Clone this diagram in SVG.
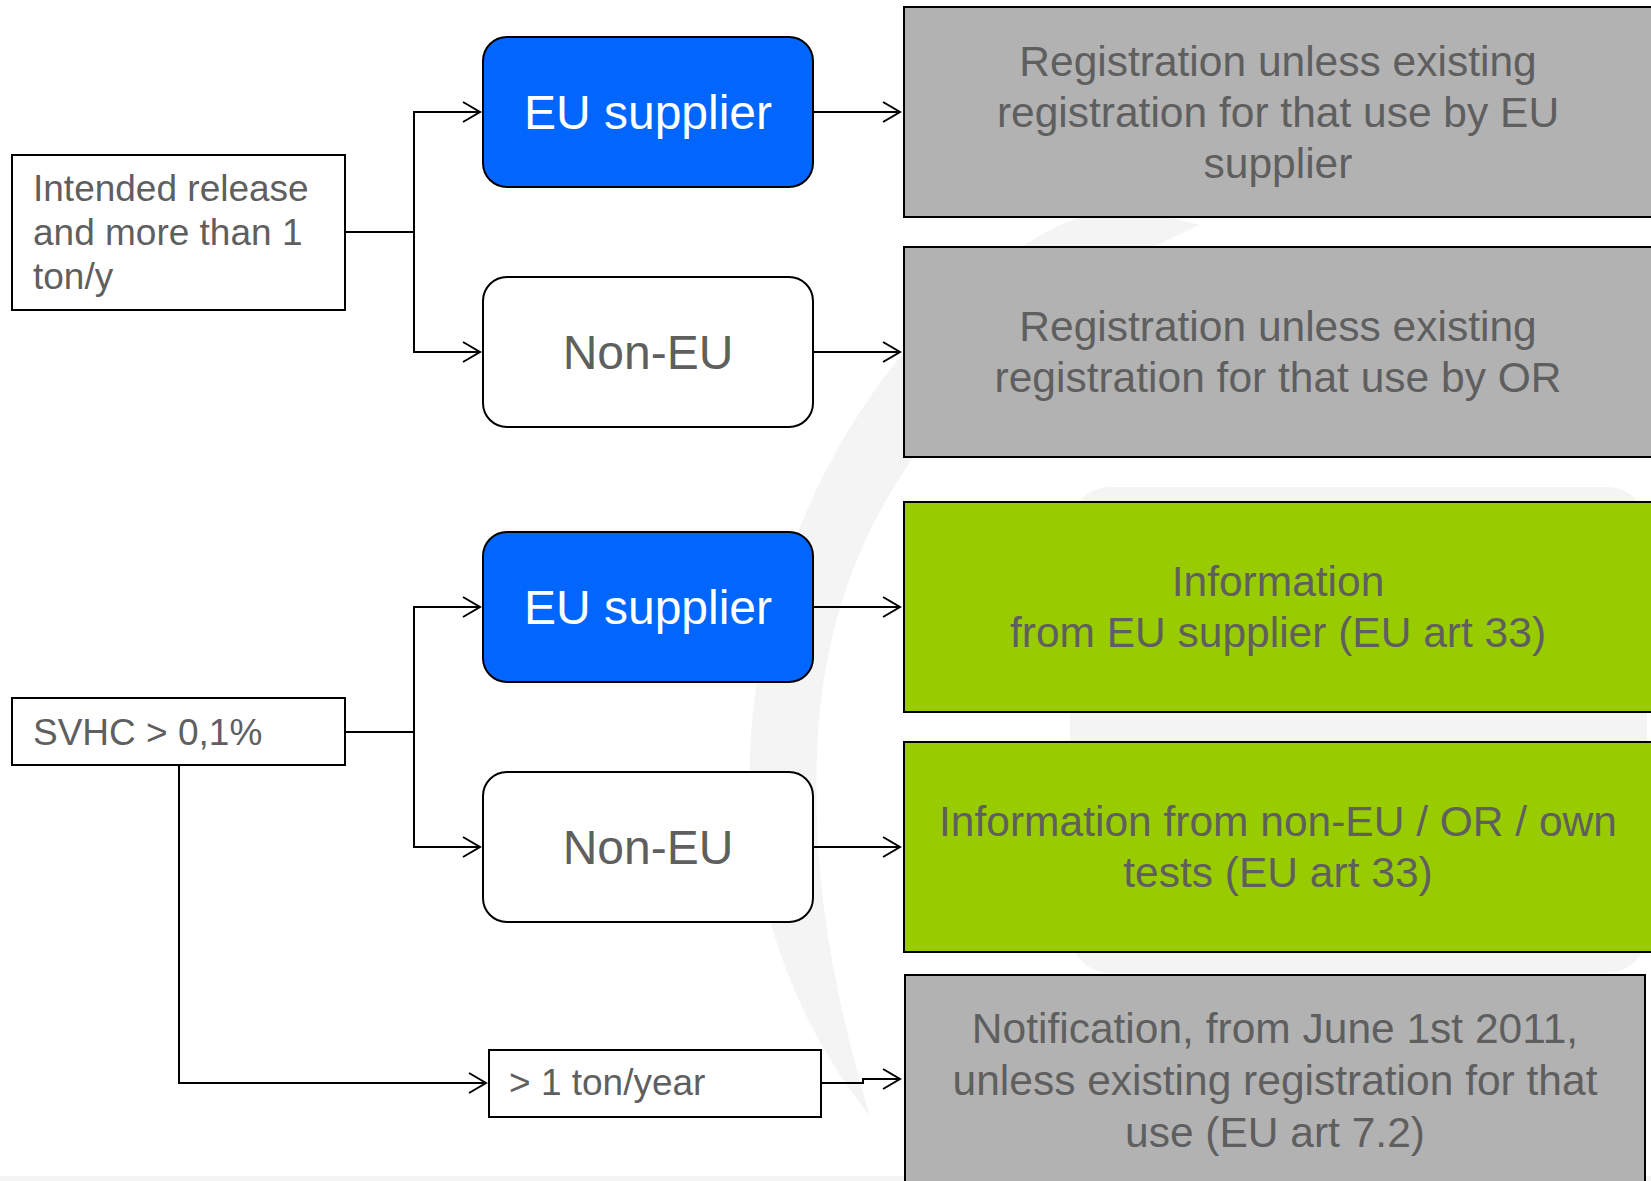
<svg xmlns="http://www.w3.org/2000/svg" width="1651" height="1181" viewBox="0 0 1651 1181">
  <style>
    .t { font-family: "Liberation Sans", Arial, sans-serif; fill: #5f5f5f; }
    .left { font-size: 37px; }
    .mid { font-size: 48px; text-anchor: middle; }
    .right { font-size: 42.5px; text-anchor: middle; }
    .white { fill: #ffffff; }
    .box { stroke: #000; stroke-width: 2; }
    .plain { fill: #ffffff; }
    .blue { fill: #0066ff; }
    .grey { fill: #b2b2b2; }
    .green { fill: #99cc00; }
    .conn { fill: none; stroke: #000; stroke-width: 2; }
    .wm { fill: #f4f4f4; }
  </style>
  <defs>
    <marker id="arr" markerUnits="userSpaceOnUse" markerWidth="24" markerHeight="24" viewBox="-20 -12 24 24" refX="0" refY="0" orient="auto" overflow="visible">
      <path d="M-17,-10 L0,0 L-17,10" fill="none" stroke="#000" stroke-width="2"/>
    </marker>
  </defs>
  <rect width="1651" height="1181" fill="#ffffff"/>
  <g id="watermark">
    <path class="wm" d="M1120,205 C950,240 760,480 750,755 C745,900 800,1030 870,1116 C835,1000 812,880 817,755 C822,600 880,470 1000,360 C1060,300 1130,255 1200,225 Z"/>
    <rect class="wm" x="1070" y="487" width="577" height="486" rx="40"/>
    <rect class="wm" x="0" y="1176" width="1651" height="5"/>
  </g>

  <g id="connectors">
    <path class="conn" d="M345,232 H414 V112 H480" marker-end="url(#arr)"/>
    <path class="conn" d="M414,232 V352 H480" marker-end="url(#arr)"/>
    <path class="conn" d="M813,112 H900" marker-end="url(#arr)"/>
    <path class="conn" d="M813,352 H900" marker-end="url(#arr)"/>
    <path class="conn" d="M345,732 H414 V607 H480" marker-end="url(#arr)"/>
    <path class="conn" d="M414,732 V847 H480" marker-end="url(#arr)"/>
    <path class="conn" d="M813,607 H900" marker-end="url(#arr)"/>
    <path class="conn" d="M813,847 H900" marker-end="url(#arr)"/>
    <path class="conn" d="M179,765 V1083 H486" marker-end="url(#arr)"/>
    <path class="conn" d="M821,1083 H863 V1079 H900" marker-end="url(#arr)"/>
  </g>

  <g id="intended">
    <rect class="box plain" x="12" y="155" width="333" height="155"/>
    <text class="t left" x="33" y="201">Intended release</text>
    <text class="t left" x="33" y="245">and more than 1</text>
    <text class="t left" x="33" y="289">ton/y</text>
  </g>
  <g id="svhc">
    <rect class="box plain" x="12" y="698" width="333" height="67"/>
    <text class="t left" x="33" y="745">SVHC &gt; 0,1%</text>
  </g>
  <g id="eu1">
    <rect class="box blue" x="483" y="37" width="330" height="150" rx="24"/>
    <text class="t mid white" x="648" y="129">EU supplier</text>
  </g>
  <g id="noneu1">
    <rect class="box plain" x="483" y="277" width="330" height="150" rx="24"/>
    <text class="t mid" x="648" y="369">Non-EU</text>
  </g>
  <g id="eu2">
    <rect class="box blue" x="483" y="532" width="330" height="150" rx="24"/>
    <text class="t mid white" x="648" y="624">EU supplier</text>
  </g>
  <g id="noneu2">
    <rect class="box plain" x="483" y="772" width="330" height="150" rx="24"/>
    <text class="t mid" x="648" y="864">Non-EU</text>
  </g>
  <g id="tonyear">
    <rect class="box plain" x="489" y="1050" width="332" height="67"/>
    <text class="t left" x="509" y="1095">&gt; 1 ton/year</text>
  </g>
  <g id="reg1">
    <rect class="box grey" x="904" y="7" width="760" height="210"/>
    <text class="t right" x="1278" y="76">Registration unless existing</text>
    <text class="t right" x="1278" y="127">registration for that use by EU</text>
    <text class="t right" x="1278" y="178">supplier</text>
  </g>
  <g id="reg2">
    <rect class="box grey" x="904" y="247" width="760" height="210"/>
    <text class="t right" x="1278" y="341">Registration unless existing</text>
    <text class="t right" x="1278" y="392">registration for that use by OR</text>
  </g>
  <g id="info1">
    <rect class="box green" x="904" y="502" width="760" height="210"/>
    <text class="t right" x="1278" y="596">Information</text>
    <text class="t right" x="1278" y="647">from EU supplier (EU art 33)</text>
  </g>
  <g id="info2">
    <rect class="box green" x="904" y="742" width="760" height="210"/>
    <text class="t right" x="1278" y="836">Information from non-EU / OR / own</text>
    <text class="t right" x="1278" y="887">tests (EU art 33)</text>
  </g>
  <g id="notif">
    <rect class="box grey" x="905" y="975" width="740" height="220"/>
    <text class="t right" x="1275" y="1043">Notification, from June 1st 2011,</text>
    <text class="t right" x="1275" y="1095">unless existing registration for that</text>
    <text class="t right" x="1275" y="1147">use (EU art 7.2)</text>
  </g>
</svg>
